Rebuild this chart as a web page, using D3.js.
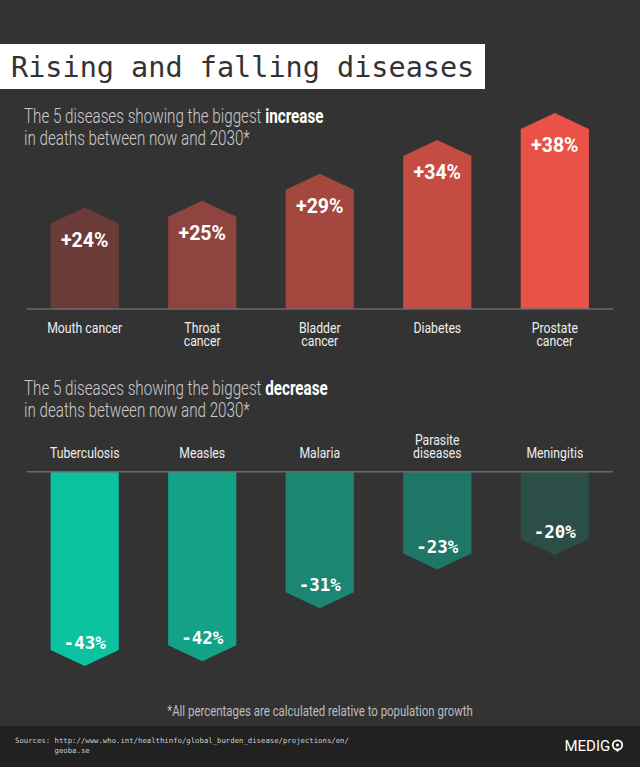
<!DOCTYPE html>
<html>
<head>
<meta charset="utf-8">
<script src="https://cdn.jsdelivr.net/npm/d3@7"></script>
<style>
  body { margin: 0; background: #333; }
  svg { display: block; }
  .mono { font-family: "DejaVu Sans Mono", "Liberation Mono", monospace; }
  .cond { font-family: Roboto, "Noto Sans", sans-serif; }
</style>
</head>
<body>
<div id="chart"></div>
<script>
// chart constants
const WIDTH = 640;
const HEIGHT = 767;
const COND = 0.8; // horizontal squeeze to fake a condensed face

// data
const riseLabels = ["Mouth cancer", "Throat\ncancer", "Bladder\ncancer", "Diabetes", "Prostate\ncancer"];
const riseValues = [24, 25, 29, 34, 38];
const riseColors = ["#6b3b38", "#8f443f", "#a4473f", "#c54c43", "#e95247"];

const fallLabels = ["Tuberculosis", "Measles", "Malaria", "Parasite\ndiseases", "Meningitis"];
const fallValues = [-43, -42, -31, -23, -20];
const fallColors = ["#0bc2a1", "#13a288", "#1b8673", "#1e7766", "#2b4f47"];

const svg = d3.select("#chart")
  .append("svg")
  .attr("width", WIDTH)
  .attr("height", HEIGHT);

svg.append("rect").attr("width", WIDTH).attr("height", HEIGHT).attr("fill", "#333333");
svg.append("rect").attr("y", 726).attr("width", WIDTH).attr("height", HEIGHT - 726).attr("fill", "#212121");

// title
svg.append("rect").attr("x", 0).attr("y", 44).attr("width", 485).attr("height", 45).attr("fill", "#ffffff");
svg.append("text")
  .attr("class", "mono")
  .attr("x", 11).attr("y", 77)
  .style("font-size", "28.5px")
  .attr("fill", "#333")
  .text("Rising and falling diseases");

// condensed text helper
function condText(g, x, y, str, size, fill, weight, anchor, k) {
  return g.append("text")
    .attr("class", "cond")
    .attr("transform", `translate(${x},${y}) scale(${k || COND},1)`)
    .attr("text-anchor", anchor || "start")
    .style("font-size", size + "px")
    .style("font-weight", weight || 400)
    .attr("fill", fill)
    .text(str);
}

function subtitle(y, word) {
  const t = condText(svg, 24, y, "The 5 diseases showing the biggest ", 19.5, "#cccccc", 300, "start", 0.78);
  t.append("tspan").attr("fill", "#fff").style("font-weight", 700).text(word);
  condText(svg, 24, y + 22.4, "in deaths between now and 2030*", 19.5, "#cccccc", 300, "start", 0.78);
}
subtitle(123, "increase");
subtitle(394.5, "decrease");

// shared x band
const xScale = d3.scaleBand()
  .domain(d3.range(5))
  .range([26.5, 613])
  .paddingInner(0.42)
  .paddingOuter(0.205);

const ARROW = 16;

function arrowPath(x0, x1, base, shoulder, tip) {
  const xc = (x0 + x1) / 2;
  return `M${x0},${base}L${x0},${shoulder}L${xc},${tip}L${x1},${shoulder}L${x1},${base}Z`;
}

// ---- rising ----
const upBase = 309;
const yUp = d3.scaleLinear().domain([9, 38]).range([upBase, 113]);

svg.append("g").selectAll("path")
  .data(riseValues)
  .enter().append("path")
  .attr("d", (d, i) => arrowPath(xScale(i), xScale(i) + xScale.bandwidth(), upBase, yUp(d) + ARROW, yUp(d)))
  .attr("fill", (d, i) => riseColors[i]);

riseValues.forEach((d, i) => {
  svg.append("text")
    .attr("x", xScale(i) + xScale.bandwidth() / 2)
    .attr("y", yUp(d) + ARROW + 23)
    .attr("text-anchor", "middle")
    .style("font-family", "Roboto, sans-serif")
    .style("font-weight", 700)
    .style("font-size", "19.5px")
    .attr("fill", "#fff")
    .text("+" + d + "%");
});

svg.append("line")
  .attr("x1", 26.5).attr("x2", 613)
  .attr("y1", upBase).attr("y2", upBase)
  .attr("stroke", "#6a6a6a").attr("stroke-width", 1.5);

riseLabels.forEach((lab, i) => {
  lab.split("\n").forEach((ln, j) => {
    condText(svg, xScale(i) + xScale.bandwidth() / 2, 333.3 + j * 13, ln, 15.3, "#eeeeee", 400, "middle");
  });
});

// ---- falling ----
const downBase = 471.7;
const yDown = d3.scaleLinear().domain([-2.7, -43]).range([downBase, 666]);

svg.append("g").selectAll("path")
  .data(fallValues)
  .enter().append("path")
  .attr("d", (d, i) => arrowPath(xScale(i), xScale(i) + xScale.bandwidth(), downBase, yDown(d) - ARROW, yDown(d)))
  .attr("fill", (d, i) => fallColors[i]);

fallValues.forEach((d, i) => {
  svg.append("text")
    .attr("class", "mono")
    .attr("x", xScale(i) + xScale.bandwidth() / 2)
    .attr("y", yDown(d) - ARROW - 1)
    .attr("text-anchor", "middle")
    .style("font-weight", 700)
    .style("font-size", "17.5px")
    .attr("fill", "#fff")
    .text("-" + Math.abs(d) + "%");
});

svg.append("line")
  .attr("x1", 26.5).attr("x2", 613)
  .attr("y1", downBase).attr("y2", downBase)
  .attr("stroke", "#6a6a6a").attr("stroke-width", 1.5);

fallLabels.forEach((lab, i) => {
  const lines = lab.split("\n");
  lines.forEach((ln, j) => {
    condText(svg, xScale(i) + xScale.bandwidth() / 2, 458 - (lines.length - 1 - j) * 13, ln, 15.3, "#eeeeee", 400, "middle");
  });
});

// footnote
condText(svg, 320, 716, "*All percentages are calculated relative to population growth", 14.3, "#bdbdbd", 400, "middle");

// sources
svg.append("text").attr("class", "mono")
  .attr("x", 15).attr("y", 743.3)
  .style("font-size", "7.3px").attr("fill", "#cfcfcf")
  .text("Sources: http://www.who.int/healthinfo/global_burden_disease/projections/en/");
svg.append("text").attr("class", "mono")
  .attr("x", 15).attr("y", 752.7)
  .style("font-size", "7.3px").style("white-space", "pre").attr("fill", "#cfcfcf")
  .text("         geoba.se");

// logo
svg.append("text")
  .attr("x", 564.5).attr("y", 750.7)
  .style("font-family", "Roboto, sans-serif")
  .style("font-size", "15px")
  .attr("fill", "#fff")
  .text("MEDIG");
svg.append("circle").attr("cx", 617.5).attr("cy", 745).attr("r", 4.7)
  .attr("fill", "none").attr("stroke", "#fff").attr("stroke-width", 1.8);
svg.append("circle").attr("cx", 617.5).attr("cy", 745).attr("r", 1.6).attr("fill", "#fff");
svg.append("path").attr("d", "M614.5,748.8L617.5,752L620.5,748.8Z").attr("fill", "#fff");
</script>
</body>
</html>
